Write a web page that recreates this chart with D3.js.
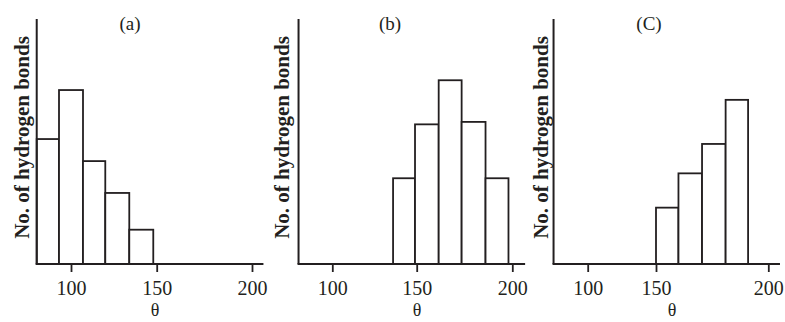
<!DOCTYPE html>
<html>
<head>
<meta charset="utf-8">
<script src="https://cdn.jsdelivr.net/npm/d3@7/dist/d3.min.js"></script>
<style>
  html, body { margin: 0; padding: 0; background: #ffffff; }
  svg { display: block; }
</style>
</head>
<body>
<svg id="chart" width="785" height="322"></svg>
<script>
// ---- data ----
const panelLabels = ["(a)", "(b)", "(C)"];
const binEdgesA = [80, 93, 107, 120, 134, 148];
const countsA   = [51, 71, 42, 29, 14];
const binEdgesB = [136, 149, 161.5, 173.5, 186, 198];
const countsB   = [35, 57, 75, 58, 35];
const binEdgesC = [150, 160, 170.5, 181, 191];
const countsC   = [23, 37, 49, 67];
const xTicks = [100, 150, 200];
const yTitle = "No. of hydrogen bonds";
const xTitle = "θ";

// ---- layout ----
const W = 785, H = 322;
const ink = "#231f20";
const serif = "'Liberation Serif', 'Times New Roman', serif";
const y = d3.scaleLinear().domain([0, 100]).range([264, 19]);

const panels = [
  { label: panelLabels[0], edges: binEdgesA, counts: countsA,
    tickRange: [71, 156.7, 252], extent: [80, 206],
    titleX: 29, labelX: 130, thetaX: 155 },
  { label: panelLabels[1], edges: binEdgesB, counts: countsB,
    tickRange: [332.3, 416.7, 512.3], extent: [80, 206.7],
    titleX: 289, labelX: 390, thetaX: 417 },
  { label: panelLabels[2], edges: binEdgesC, counts: countsC,
    tickRange: [587.7, 656, 768.3], extent: [75, 205.2],
    titleX: 548, labelX: 649, thetaX: 672 }
];

const svg = d3.select("#chart");
svg.append("rect").attr("width", W).attr("height", H).attr("fill", "#ffffff");

panels.forEach(p => {
  const x = d3.scaleLinear().domain(xTicks).range(p.tickRange);
  const g = svg.append("g");

  const bins = p.counts.map((c, i) => ({ x0: p.edges[i], x1: p.edges[i + 1], c }));

  g.selectAll("rect.bar").data(bins).join("rect")
    .attr("class", "bar")
    .attr("x", d => x(d.x0))
    .attr("width", d => x(d.x1) - x(d.x0))
    .attr("y", d => y(d.c))
    .attr("height", d => y(0) - y(d.c))
    .attr("fill", "#ffffff")
    .attr("stroke", ink)
    .attr("stroke-width", 1.8);

  // y axis line
  g.append("line")
    .attr("x1", x(p.extent[0])).attr("x2", x(p.extent[0]))
    .attr("y1", y(0)).attr("y2", y(100))
    .attr("stroke", ink).attr("stroke-width", 2);

  // x axis
  const ax = g.append("g").attr("transform", `translate(0,${y(0)})`)
    .call(d3.axisBottom(x).tickValues(xTicks).tickSize(8).tickSizeOuter(0));
  ax.select(".domain").remove();
  ax.selectAll(".tick line").attr("stroke", ink).attr("stroke-width", 1.8);
  ax.selectAll(".tick text")
    .attr("y", 31).attr("dy", 0)
    .attr("fill", ink)
    .style("font-family", serif).style("font-size", "20px");
  g.append("line")
    .attr("x1", x(p.extent[0]) - 1).attr("x2", x(p.extent[1]))
    .attr("y1", y(0)).attr("y2", y(0))
    .attr("stroke", ink).attr("stroke-width", 2.2);

  // y title
  g.append("text")
    .attr("transform", `translate(${p.titleX},137.5) rotate(-90)`)
    .attr("text-anchor", "middle")
    .attr("fill", ink)
    .style("font-family", serif).style("font-weight", "bold").style("font-size", "21px")
    .text(yTitle);

  // panel label
  g.append("text")
    .attr("x", p.labelX).attr("y", 29.5)
    .attr("text-anchor", "middle").attr("fill", ink)
    .style("font-family", serif).style("font-size", "19px")
    .text(p.label);

  // x title
  g.append("text")
    .attr("x", p.thetaX).attr("y", 316)
    .attr("text-anchor", "middle").attr("fill", ink)
    .style("font-family", serif).style("font-size", "18px")
    .text(xTitle);
});
</script>
</body>
</html>
